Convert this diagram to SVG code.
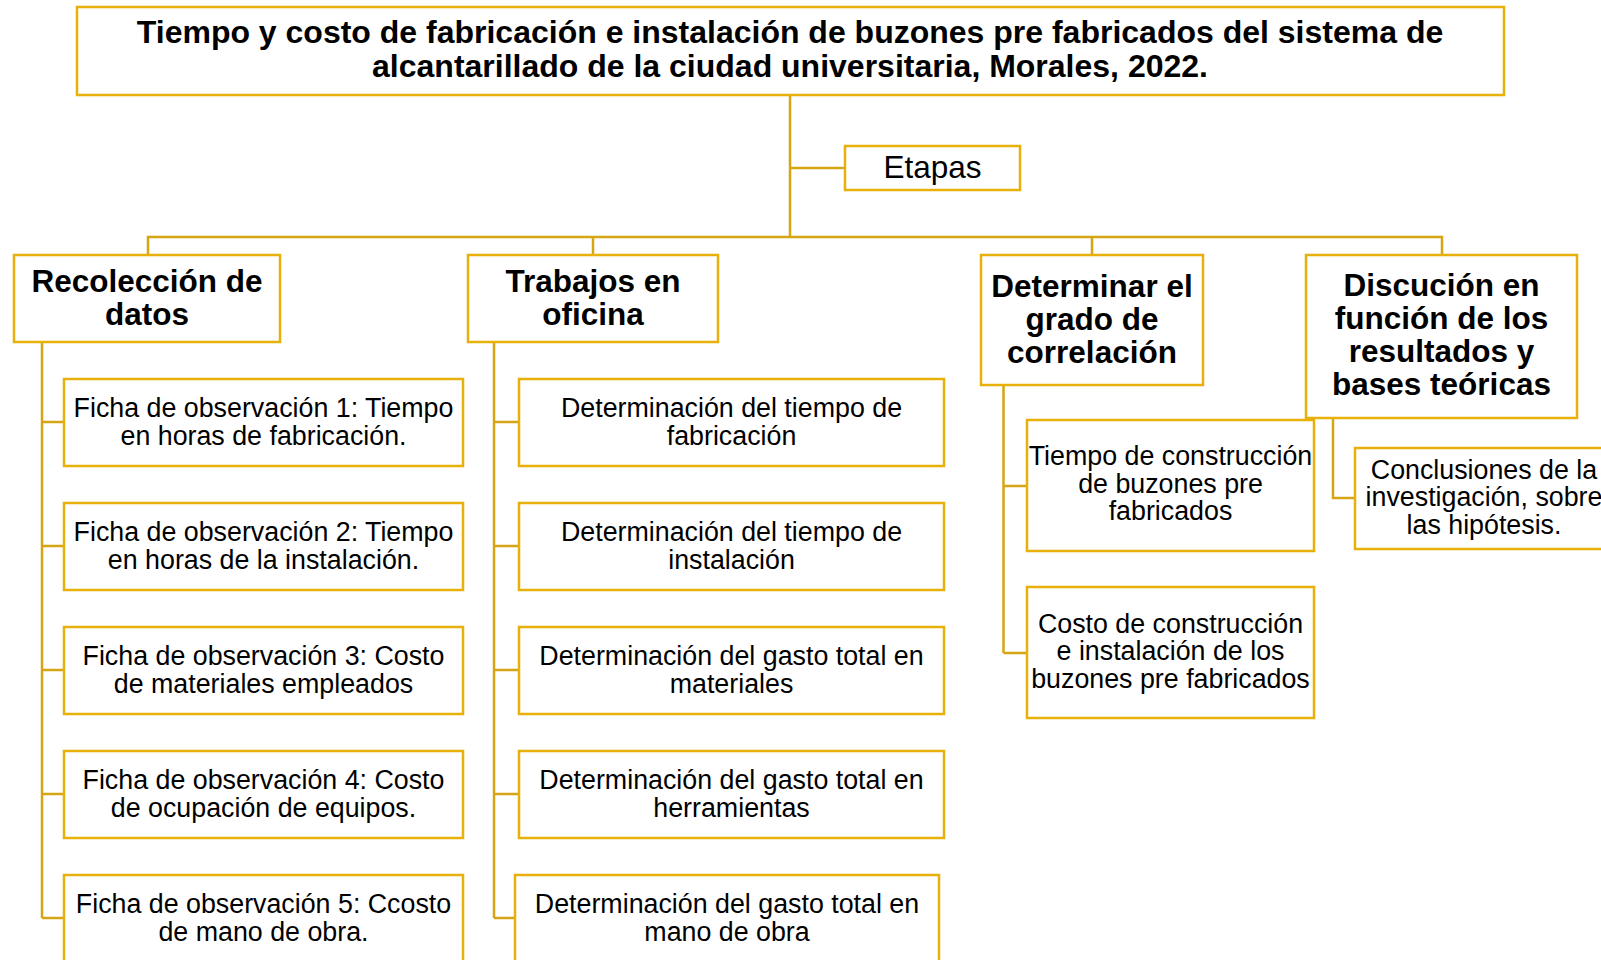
<svg xmlns="http://www.w3.org/2000/svg" width="1601" height="960" viewBox="0 0 1601 960">
<style>
.box{fill:#fff;stroke:#E8B00A;stroke-width:2.5}
.ln{fill:none;stroke:#D6A514;stroke-width:2.5}
.t{font-family:"Liberation Sans",Arial,sans-serif;font-weight:bold;font-size:31.5px;fill:#000;text-anchor:middle}
.h{font-size:32px}
.r{font-family:"Liberation Sans",Arial,sans-serif;font-size:26.8px;fill:#000;text-anchor:middle}
.e{font-family:"Liberation Sans",Arial,sans-serif;font-size:31.5px;fill:#000;text-anchor:middle}
</style>
<rect width="1601" height="960" fill="#fff"/>
<g id="connectors">
<path class="ln" d="M790 95V237M790 168H845M148 255V237H1442V255M593 237V255M1092 237V255"/>
<path class="ln" d="M42 342V918M42 422H64M42 546H64M42 670H64M42 794H64M42 918H64"/>
<path class="ln" d="M494 342V918M494 422H519M494 546H519M494 670H519M494 794H519M494 918H515"/>
<path class="ln" d="M1003.5 385V653M1003.5 486H1027M1003.5 653H1027"/>
<path class="ln" d="M1333 418V498H1355"/>
</g>
<g id="title"><rect class="box" x="77" y="7" width="1427" height="88"/>
<text class="t h" x="790" y="43">Tiempo y costo de fabricación e instalación de buzones pre fabricados del sistema de</text>
<text class="t h" x="790" y="77">alcantarillado de la ciudad universitaria, Morales, 2022.</text></g>
<g id="etapas"><rect class="box" x="845" y="146" width="175" height="44"/>
<text class="e" x="932.5" y="178">Etapas</text></g>
<g id="recoleccion"><rect class="box" x="14" y="255" width="266" height="87"/>
<text class="t" x="147" y="292">Recolección de</text><text class="t" x="147" y="325">datos</text></g>
<g id="trabajos"><rect class="box" x="468" y="255" width="250" height="87"/>
<text class="t" x="593" y="292">Trabajos en</text><text class="t" x="593" y="325">oficina</text></g>
<g id="determinar"><rect class="box" x="981" y="255" width="222" height="130"/>
<text class="t" x="1092" y="297">Determinar el</text><text class="t" x="1092" y="330">grado de</text><text class="t" x="1092" y="363">correlación</text></g>
<g id="discucion"><rect class="box" x="1306" y="255" width="271" height="163"/>
<text class="t" x="1441.5" y="296">Discución en</text><text class="t" x="1441.5" y="329">función de los</text><text class="t" x="1441.5" y="362">resultados y</text><text class="t" x="1441.5" y="395">bases teóricas</text></g>
<g id="ficha1"><rect class="box" x="64" y="379" width="399" height="87"/>
<text class="r" x="263.5" y="417">Ficha de observación 1: Tiempo</text><text class="r" x="263.5" y="444.5">en horas de fabricación.</text></g>
<g id="ficha2"><rect class="box" x="64" y="503" width="399" height="87"/>
<text class="r" x="263.5" y="541">Ficha de observación 2: Tiempo</text><text class="r" x="263.5" y="568.5">en horas de la instalación.</text></g>
<g id="ficha3"><rect class="box" x="64" y="627" width="399" height="87"/>
<text class="r" x="263.5" y="665">Ficha de observación 3: Costo</text><text class="r" x="263.5" y="692.5">de materiales empleados</text></g>
<g id="ficha4"><rect class="box" x="64" y="751" width="399" height="87"/>
<text class="r" x="263.5" y="789">Ficha de observación 4: Costo</text><text class="r" x="263.5" y="816.5">de ocupación de equipos.</text></g>
<g id="ficha5"><rect class="box" x="64" y="875" width="399" height="100"/>
<text class="r" x="263.5" y="913">Ficha de observación 5: Ccosto</text><text class="r" x="263.5" y="940.5">de mano de obra.</text></g>
<g id="det1"><rect class="box" x="519" y="379" width="425" height="87"/>
<text class="r" x="731.5" y="417">Determinación del tiempo de</text><text class="r" x="731.5" y="444.5">fabricación</text></g>
<g id="det2"><rect class="box" x="519" y="503" width="425" height="87"/>
<text class="r" x="731.5" y="541">Determinación del tiempo de</text><text class="r" x="731.5" y="568.5">instalación</text></g>
<g id="det3"><rect class="box" x="519" y="627" width="425" height="87"/>
<text class="r" x="731.5" y="665">Determinación del gasto total en</text><text class="r" x="731.5" y="692.5">materiales</text></g>
<g id="det4"><rect class="box" x="519" y="751" width="425" height="87"/>
<text class="r" x="731.5" y="789">Determinación del gasto total en</text><text class="r" x="731.5" y="816.5">herramientas</text></g>
<g id="det5"><rect class="box" x="515" y="875" width="424" height="100"/>
<text class="r" x="727" y="913">Determinación del gasto total en</text><text class="r" x="727" y="940.5">mano de obra</text></g>
<g id="tiempo"><rect class="box" x="1027" y="420" width="287" height="131"/>
<text class="r" x="1170.5" y="465">Tiempo de construcción</text><text class="r" x="1170.5" y="492.5">de buzones pre</text><text class="r" x="1170.5" y="520">fabricados</text></g>
<g id="costo"><rect class="box" x="1027" y="587" width="287" height="131"/>
<text class="r" x="1170.5" y="632.5">Costo de construcción</text><text class="r" x="1170.5" y="660">e instalación de los</text><text class="r" x="1170.5" y="687.5">buzones pre fabricados</text></g>
<g id="conclusiones"><rect class="box" x="1355" y="448" width="258" height="101"/>
<text class="r" x="1484" y="478.5">Conclusiones de la</text><text class="r" x="1484" y="506">investigación, sobre</text><text class="r" x="1484" y="533.5">las hipótesis.</text></g>
</svg>
